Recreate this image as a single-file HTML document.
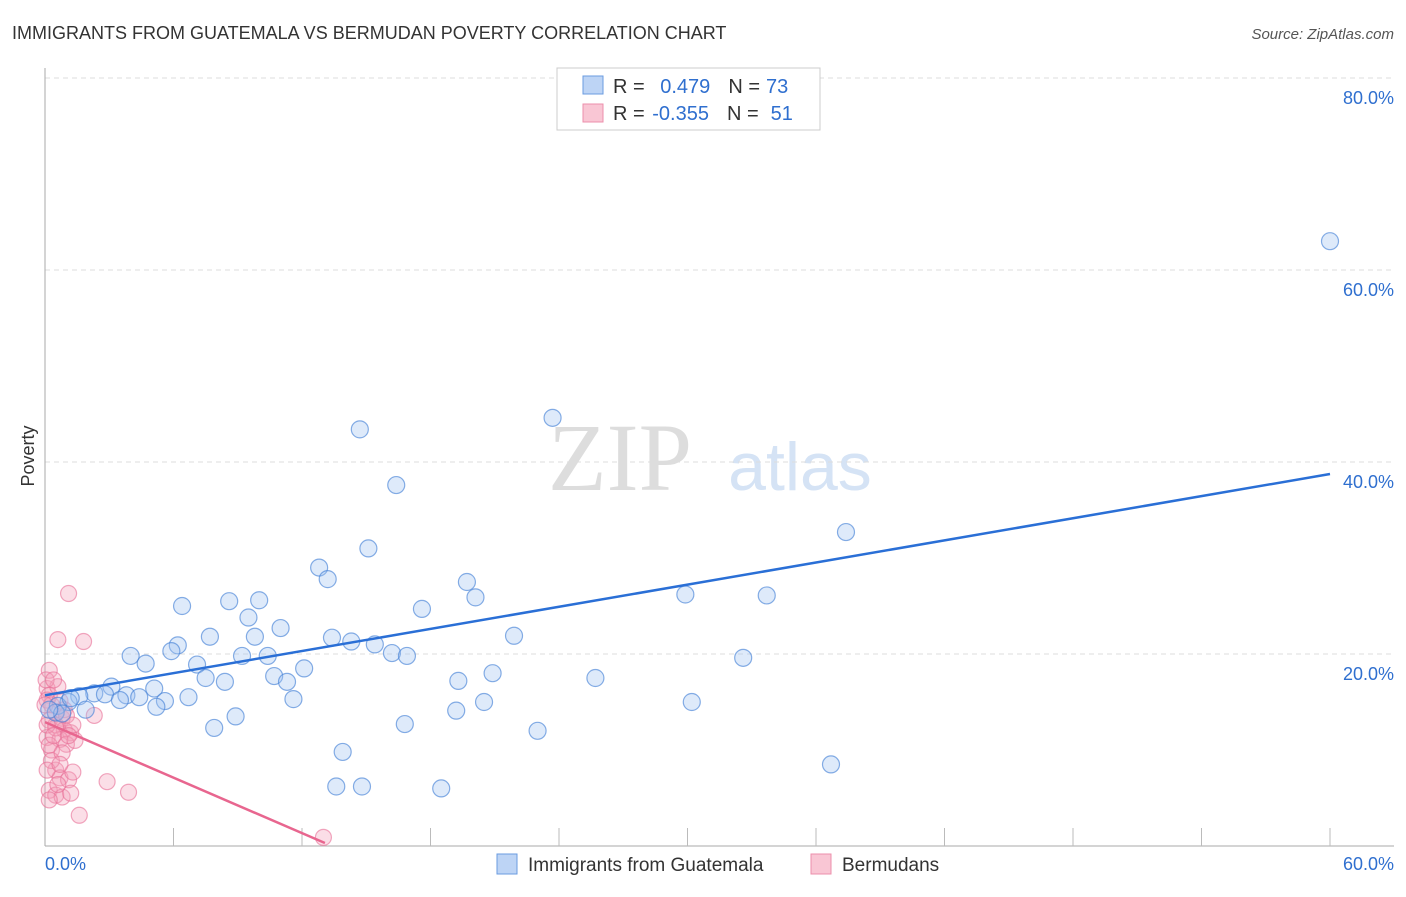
<!DOCTYPE html>
<html><head><meta charset="utf-8"><style>
body{margin:0;background:#fff;font-family:"Liberation Sans",sans-serif;}
svg text{font-family:"Liberation Sans",sans-serif;}
</style></head><body>
<svg id="c" width="1406" height="892" xmlns="http://www.w3.org/2000/svg">
<text x="12" y="39" font-size="18" fill="#333">IMMIGRANTS FROM GUATEMALA VS BERMUDAN POVERTY CORRELATION CHART</text>
<text x="1394" y="39" font-size="15" fill="#555" font-style="italic" text-anchor="end">Source: ZipAtlas.com</text>
<text x="620" y="490" font-size="96" fill="#ddd" font-family="Liberation Serif" text-anchor="middle" style="font-family:'Liberation Serif',serif">ZIP</text>
<text x="800" y="490" font-size="68" fill="#d5e3f5" text-anchor="middle">atlas</text>
<text x="34" y="456" font-size="18" fill="#333" text-anchor="middle" transform="rotate(-90 34 456)">Poverty</text>
<g id="grid"></g><g id="pts"></g><g id="lines"></g>
<rect x="557" y="68" width="263" height="62" fill="#fff" stroke="#ccc"/>
<rect x="583" y="76" width="20" height="18" fill="#bdd4f5" stroke="#6a9be0"/>
<rect x="583" y="104" width="20" height="18" fill="#f9c6d4" stroke="#ec8fab"/>
<text x="613" y="93" font-size="20" fill="#333">R = <tspan fill="#2f6fcf" dx="10">0.479</tspan><tspan dx="18" fill="#333">N =</tspan><tspan dx="6" fill="#2f6fcf">73</tspan></text>
<text x="613" y="120" font-size="20" fill="#333">R = <tspan fill="#2f6fcf" dx="2">-0.355</tspan><tspan dx="18" fill="#333">N =</tspan><tspan dx="12" fill="#2f6fcf">51</tspan></text>
<rect x="497" y="854" width="20" height="20" fill="#bdd4f5" stroke="#6a9be0"/>
<text x="528" y="871" font-size="19" fill="#333">Immigrants from Guatemala</text>
<rect x="811" y="854" width="20" height="20" fill="#f9c6d4" stroke="#ec8fab"/>
<text x="842" y="871" font-size="19" fill="#333">Bermudans</text>
<text x="45" y="870" font-size="18" fill="#2f6fcf">0.0%</text>
<text x="1394" y="870" font-size="18" fill="#2f6fcf" text-anchor="end">60.0%</text>
</svg>
<script>
const yTicks=[20,40,60,80];
const blueX=[60.0,23.7,14.7,16.4,37.4,15.1,12.8,13.2,19.7,20.1,29.9,33.7,6.4,8.6,10.0,9.5,17.6,21.9,7.7,9.8,11.0,13.4,14.3,15.4,6.2,5.9,4.0,4.7,9.2,10.4,16.2,16.9,32.6,7.1,12.1,20.9,7.5,8.4,10.7,11.3,19.3,25.7,5.1,3.1,2.3,2.8,3.8,1.6,4.4,6.7,5.6,3.5,11.6,20.5,30.2,5.2,1.1,1.9,0.6,8.9,16.8,7.9,19.2,23.0,13.9,36.7,13.6,14.8,18.5,0.5,0.8,0.2,1.2];
const blueY=[63.0,44.6,43.4,37.6,32.7,31.0,29.0,27.8,27.5,25.9,26.2,26.1,25.0,25.5,25.6,23.8,24.7,21.9,21.8,21.8,22.7,21.7,21.3,21.0,20.9,20.3,19.8,19.0,19.8,19.8,20.1,19.8,19.6,18.9,18.5,18.0,17.5,17.1,17.7,17.1,17.2,17.5,16.4,16.6,15.9,15.8,15.7,15.6,15.5,15.5,15.1,15.2,15.3,15.0,15.0,14.5,15.0,14.2,14.6,13.5,12.7,12.3,14.1,12.0,9.8,8.5,6.2,6.2,6.0,13.9,13.8,14.2,15.4];
const pinkX=[1.1,0.6,1.8,0.2,0.1,0.2,0.1,0.3,0.5,0.8,0.2,0.5,0.9,1.2,0.1,0.7,1.0,0.3,2.3,0.5,0.7,1.1,1.3,0.2,0.5,0.8,1.2,2.9,3.9,1.6,13.0,0.5,0.9,0.1,0.3,0.6,0.7,1.0,1.3,0.0,0.2,0.4,0.8,1.4,0.05,0.4,0.6,0.1,0.7,0.2,1.1];
const pinkY=[26.3,21.5,21.3,18.3,16.4,15.7,15.2,14.7,13.9,13.3,13.1,12.6,12.1,11.8,11.3,11.1,10.6,10.0,13.6,7.9,7.1,6.9,7.7,5.8,5.3,5.1,5.5,6.7,5.6,3.2,0.9,12.3,14.2,12.6,8.9,16.6,15.1,13.6,12.6,14.7,10.5,11.5,9.7,11.0,17.3,17.3,6.4,7.9,8.5,4.8,11.5];
const blueFit=[15.7,38.75];
const pinkFitX=[0,13.07]; const pinkFitY=[12.9,0.31];
const X0=45,X1=1330,Y0=846,PY=9.6;
const sx=v=>X0+(X1-X0)*v/60, sy=v=>Y0-v*PY;
const NS="http://www.w3.org/2000/svg";
function mk(t,a,p){const e=document.createElementNS(NS,t);for(const k in a)e.setAttribute(k,a[k]);p.appendChild(e);return e;}
const grid=document.getElementById('grid');
yTicks.forEach(t=>{
 const l=mk('line',{x1:X0,x2:1394,y1:sy(t),y2:sy(t),stroke:'#ddd','stroke-dasharray':'5,4'},grid);
 
 
 const tx=mk('text',{x:1394,y:sy(t)+26,'font-size':18,fill:'#2f6fcf','text-anchor':'end'},grid);
 tx.textContent=t.toFixed(1)+'%';
 
 
});
const ax=mk('line',{x1:X0,x2:1394,y1:Y0,y2:Y0,stroke:'#aaa'},grid);


const ay=mk('line',{x1:X0,x2:X0,y1:68,y2:Y0,stroke:'#aaa'},grid);


for(let i=1;i<=10;i++){const t=mk('line',{x1:sx(i*6),x2:sx(i*6),y1:828,y2:Y0,stroke:'#bbb'},grid);
 
 }
const pts=document.getElementById('pts');
pinkX.forEach((v,i)=>{const c=mk('circle',{cx:sx(v),cy:sy(pinkY[i]),r:8,fill:'rgba(244,160,185,0.35)',stroke:'rgba(232,110,150,0.6)','stroke-width':1.2},pts);
 
 });
blueX.forEach((v,i)=>{const c=mk('circle',{cx:sx(v),cy:sy(blueY[i]),r:8.5,fill:'rgba(160,196,240,0.35)',stroke:'rgba(70,130,215,0.65)','stroke-width':1.2},pts);
 
 });
const lines=document.getElementById('lines');
const bl=mk('line',{x1:sx(0),y1:sy(blueFit[0]),x2:sx(60),y2:sy(blueFit[1]),stroke:'#2a6fd6','stroke-width':2.5},lines);


const pl=mk('line',{x1:sx(pinkFitX[0]),y1:sy(pinkFitY[0]),x2:sx(pinkFitX[1]),y2:sy(pinkFitY[1]),stroke:'#e8668f','stroke-width':2.5},lines);


</script>
</body></html>
